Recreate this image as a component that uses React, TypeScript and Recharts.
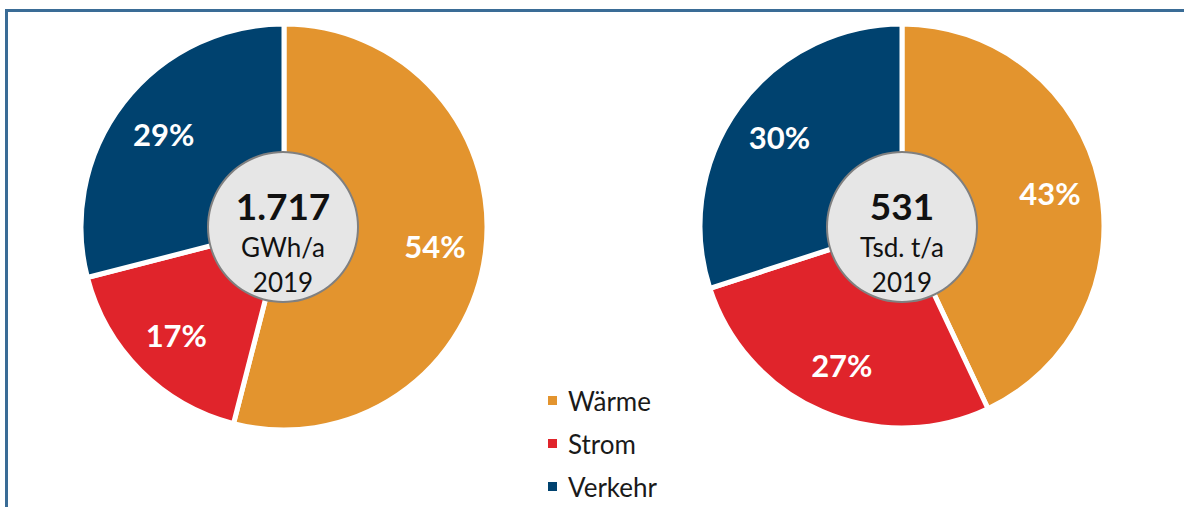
import React from 'react';
import { PieChart, Pie, Cell, Legend } from 'recharts';

const categories = ['Wärme', 'Strom', 'Verkehr'];
const colors = ['#E3942E', '#E0242B', '#00426F'];
const energyShares = [54, 17, 29];
const co2Shares = [43, 27, 30];
const centerTotals = ['1.717', '531'];
const centerUnits = ['GWh/a', 'Tsd. t/a'];
const centerYear = '2019';

const energyData = categories.map((name, i) => ({ name, value: energyShares[i] }));
const co2Data = categories.map((name, i) => ({ name, value: co2Shares[i] }));

const FONT = 'Lato, "Open Sans", sans-serif';
const RAD = Math.PI / 180;
const M = { top: 0, right: 0, bottom: 0, left: 0 };

const sliceLabel = (props: any) => {
    const { cx, cy, midAngle, outerRadius, value } = props;
    const r = outerRadius * 0.75;
    const x = cx + r * Math.cos(-midAngle * RAD);
    const y = cy + r * Math.sin(-midAngle * RAD);
    return (
        <text
            x={x}
            y={y}
            fill="#FFFFFF"
            textAnchor="middle"
            dominantBaseline="central"
            style={{ fontFamily: FONT, fontWeight: 700, fontSize: 31 }}
        >
            {value}%
        </text>
    );
};

const centerLabel = (idx: number) => (props: any) => {
    const { cx, cy } = props;
    return (
        <g style={{ fontFamily: FONT }}>
            <text x={cx} y={cy - 22} textAnchor="middle" dominantBaseline="central" fill="#111" style={{ fontWeight: 700, fontSize: 37 }}>
                {centerTotals[idx]}
            </text>
            <text x={cx} y={cy + 20} textAnchor="middle" dominantBaseline="central" fill="#111" style={{ fontSize: 26 }}>
                {centerUnits[idx]}
            </text>
            <text x={cx} y={cy + 55} textAnchor="middle" dominantBaseline="central" fill="#111" style={{ fontSize: 26 }}>
                {centerYear}
            </text>
        </g>
    );
};

const LegendBox = () => (
    <div style={{ fontFamily: FONT }}>
        {categories.map((c, i) => (
            <div key={c} style={{ display: 'flex', alignItems: 'center', height: 43 }}>
                <span style={{ width: 9, height: 9, background: colors[i], marginRight: 11 }} />
                <span style={{ fontSize: 26, color: '#1a1a1a' }}>{c}</span>
            </div>
        ))}
    </div>
);

const centerPies = (cx: number, cy: number, idx: number) => [
    <Pie
        key={`c${idx}`}
        data={[{ name: `center${idx}`, value: 1 }]}
        dataKey="value"
        cx={cx}
        cy={cy}
        outerRadius={75}
        fill="#E6E6E6"
        stroke="none"
        label={centerLabel(idx)}
        labelLine={false}
        isAnimationActive={false}
    />,
    <Pie
        key={`r${idx}`}
        data={[{ name: `ring${idx}`, value: 1 }]}
        dataKey="value"
        cx={cx}
        cy={cy}
        innerRadius={74}
        outerRadius={76}
        fill="#808080"
        stroke="none"
        isAnimationActive={false}
    />,
];

export default function App() {
    return (
        <div style={{ position: 'absolute', left: 0, top: 0, width: 1184, height: 507, background: '#fff', overflow: 'hidden' }}>
            <div
                style={{
                    position: 'absolute',
                    left: 5,
                    top: 9,
                    width: 1184,
                    height: 510,
                    borderTop: '3px solid #3A6C96',
                    borderLeft: '3px solid #3A6C96',
                }}
            />
            <PieChart width={1184} height={507} margin={M} style={{ position: 'absolute', left: 0, top: 0 }}>
                <Pie
                    data={energyData}
                    dataKey="value"
                    cx={284}
                    cy={227}
                    outerRadius={203}
                    startAngle={90}
                    endAngle={-270}
                    stroke="#FFFFFF"
                    strokeWidth={5}
                    label={sliceLabel}
                    labelLine={false}
                    isAnimationActive={false}
                >
                    {energyData.map((d, i) => (
                        <Cell key={d.name} fill={colors[i]} />
                    ))}
                </Pie>
                <Pie
                    data={co2Data}
                    dataKey="value"
                    cx={902}
                    cy={226}
                    outerRadius={202}
                    startAngle={90}
                    endAngle={-270}
                    stroke="#FFFFFF"
                    strokeWidth={5}
                    label={sliceLabel}
                    labelLine={false}
                    isAnimationActive={false}
                >
                    {co2Data.map((d, i) => (
                        <Cell key={d.name} fill={colors[i]} />
                    ))}
                </Pie>
                {centerPies(283, 227, 0)}
                {centerPies(902, 227, 1)}
                <Legend
                    content={() => <LegendBox />}
                    layout="vertical"
                    wrapperStyle={{ position: 'absolute', left: 548, top: 379, width: 160 }}
                />
            </PieChart>
        </div>
    );
}
